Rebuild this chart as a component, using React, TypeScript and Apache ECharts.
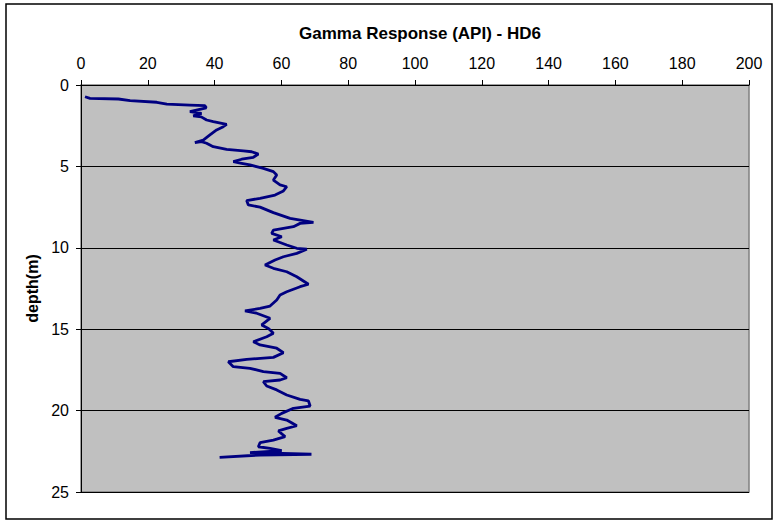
import React, { useEffect, useRef } from "react";
import * as echarts from "echarts";

const titleText = "Gamma Response (API) - HD6";
const yAxisName = "depth(m)";

const gamma: number[] = [
  1.2, 2.7, 11.2, 14.7, 22.7, 25.7, 32.6, 37.1, 37.5, 32.6, 36.1, 33.6, 36, 37.6, 39.6, 43.6, 42.6, 40.6, 38.6, 36.6,
  34.1, 36.1, 37.6, 39.6, 43.6, 48.6, 51.1, 53.1, 51.6, 48.1, 45.6, 48.1, 50.6, 54.6, 57.6, 58.6, 57.6, 59.6, 61.6, 60.6,
  58.1, 53.6, 49.6, 50.1, 53.6, 57.6, 62.6, 69.6, 65.6, 63.6, 57.6, 57.1, 60.1, 57.6, 61.6, 64.6, 67.6, 64.6, 60.6, 58.1,
  55.1, 57.6, 61.6, 64.6, 68.1, 65.6, 61.6, 59.6, 58.6, 56.6, 53.6, 49.1, 52.6, 56.6, 54.1, 56.1, 56.6, 57.6, 55.6, 51.6,
  53.6, 58.6, 60.6, 57.6, 49.6, 44.1, 45.6, 50.6, 54.6, 59.6, 61.6, 59.6, 54.6, 55.6, 58.6, 61.6, 65.6, 68.1, 68.6, 63.6,
  60.1, 58.1, 61.6, 64.6, 61.6, 59.1, 61.1, 57.6, 53.6, 53.1, 56.6, 60.1, 50.6, 69, 53.6, 41.5,
];
const depth: number[] = [
  0.72, 0.82, 0.86, 0.96, 1.06, 1.17, 1.23, 1.27, 1.4, 1.64, 1.74, 1.9, 1.96, 2.15, 2.25, 2.42, 2.56, 2.76, 3.07, 3.38,
  3.54, 3.48, 3.58, 3.79, 3.95, 4.05, 4.1, 4.24, 4.44, 4.56, 4.71, 4.81, 4.91, 5.12, 5.32, 5.53, 5.84, 6.14, 6.25, 6.51,
  6.76, 6.96, 7.1, 7.37, 7.5, 7.84, 8.19, 8.44, 8.5, 8.7, 8.91, 9.11, 9.32, 9.52, 9.83, 10.03, 10.09, 10.34, 10.55, 10.75,
  11.06, 11.26, 11.47, 11.78, 12.24, 12.39, 12.7, 12.9, 13.21, 13.58, 13.72, 13.88, 14.02, 14.33, 14.74, 14.95, 15.05, 15.25, 15.46, 15.77,
  15.97, 16.17, 16.44, 16.73, 16.85, 17.0, 17.3, 17.4, 17.61, 17.71, 17.98, 18.12, 18.22, 18.49, 18.73, 19.04, 19.31, 19.41, 19.72, 19.86,
  20.17, 20.41, 20.58, 20.93, 21.09, 21.25, 21.6, 21.81, 21.97, 22.22, 22.32, 22.46, 22.58, 22.68, 22.73, 22.87,
];

const FONT = "Liberation Sans, Arial, sans-serif";

export default function App() {
  const ref = useRef<HTMLDivElement>(null);
  useEffect(() => {
    if (!ref.current) return;
    const chart = echarts.init(ref.current, undefined, { renderer: "svg" });
    const data = gamma.map((g, i) => [g, depth[i]]);
    chart.setOption({
      animation: false,
      backgroundColor: "#ffffff",
      title: {
        text: titleText,
        left: 415,
        textAlign: "center",
        top: 20,
        textStyle: { fontFamily: FONT, fontSize: 17, fontWeight: "bold", color: "#000" },
      },
      grid: {
        left: 81,
        right: 24,
        top: 85,
        bottom: 28,
        show: true,
        backgroundColor: "#C0C0C0",
        borderColor: "#808080",
        borderWidth: 1.5,
      },
      xAxis: {
        type: "value",
        position: "top",
        min: 0,
        max: 200,
        interval: 20,
        axisLine: { show: true, lineStyle: { color: "#000", width: 1 } },
        axisTick: { show: true, inside: false, length: 5, lineStyle: { color: "#000" } },
        axisLabel: { fontFamily: FONT, fontSize: 16, color: "#000", margin: 14 },
        splitLine: { show: false },
      },
      yAxis: {
        type: "value",
        inverse: true,
        min: 0,
        max: 25,
        interval: 5,
        name: yAxisName,
        nameLocation: "middle",
        nameGap: 40,
        nameTextStyle: { fontFamily: FONT, fontSize: 16, fontWeight: "bold", color: "#000" },
        axisLine: { show: true, lineStyle: { color: "#000", width: 1 } },
        axisTick: { show: true, inside: false, length: 5, lineStyle: { color: "#000" } },
        axisLabel: { fontFamily: FONT, fontSize: 16, color: "#000", margin: 12 },
        splitLine: { show: true, lineStyle: { color: "#000", width: 1 } },
      },
      graphic: [
        {
          type: "rect",
          shape: { x: 6, y: 4, width: 766, height: 515 },
          style: { fill: "none", stroke: "#000", lineWidth: 1.5 },
          silent: true,
        },
      ],
      series: [
        {
          type: "line",
          data,
          showSymbol: false,
          symbol: "none",
          lineStyle: { color: "#000080", width: 2.8 },
          z: 5,
        },
      ],
    });
    return () => chart.dispose();
  }, []);
  return <div ref={ref} style={{ position: "fixed", left: 0, top: 0, width: 773, height: 520 }} />;
}
